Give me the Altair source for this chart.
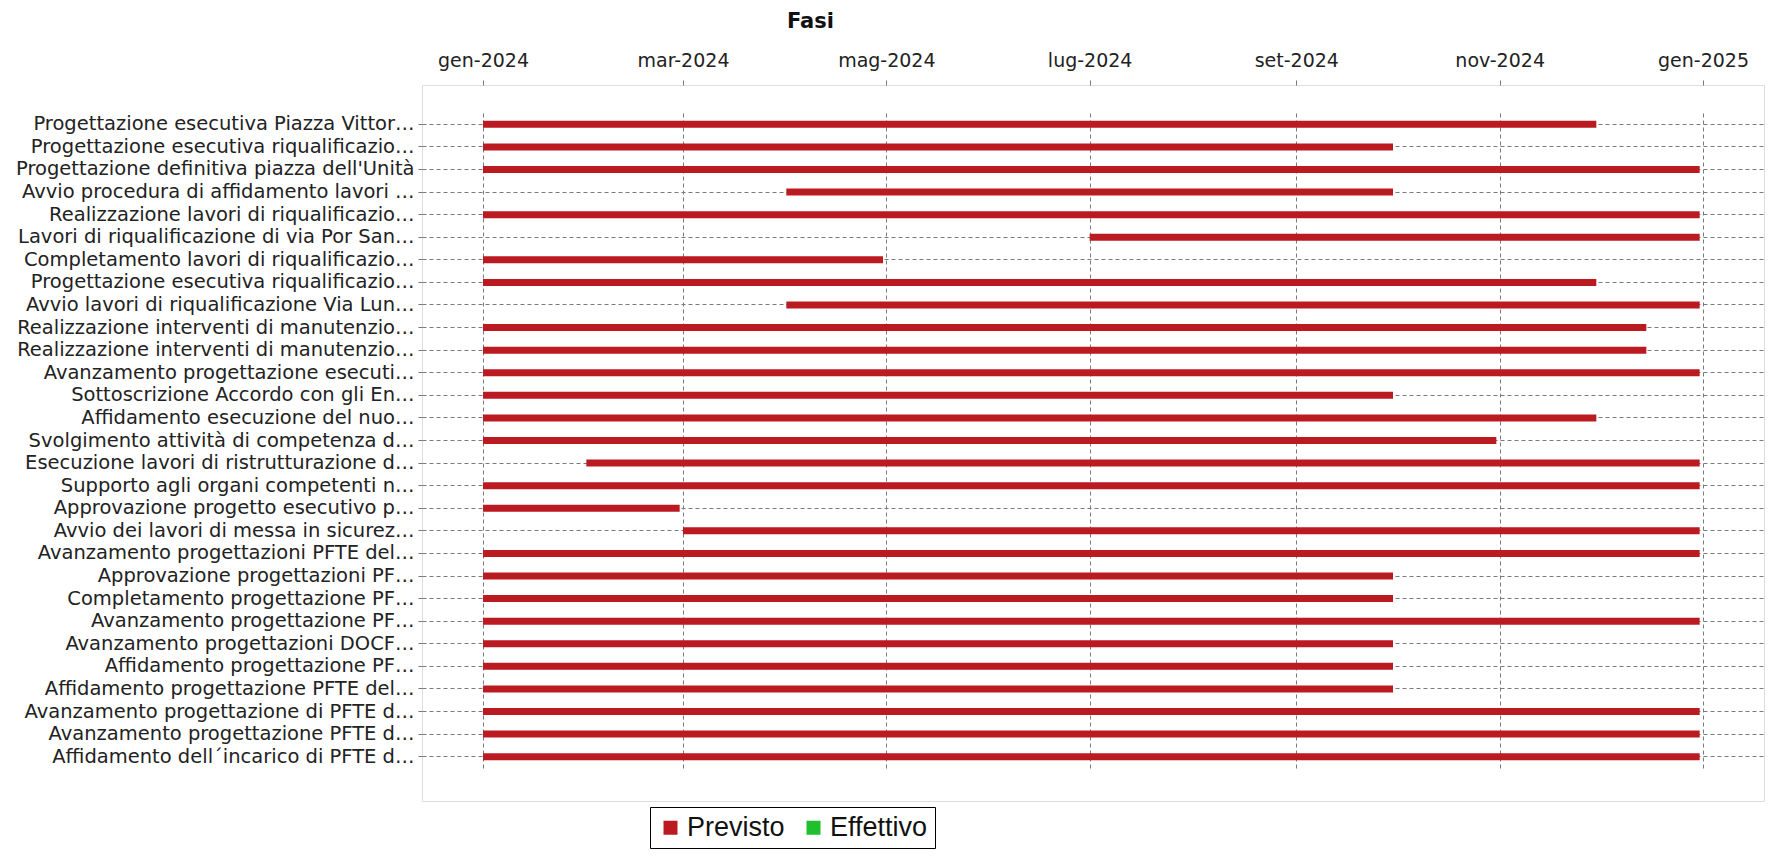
import json
import altair as alt
import pandas as pd

labels = [
    "Progettazione esecutiva Piazza Vittor…",
    "Progettazione esecutiva riqualificazio…",
    "Progettazione definitiva piazza dell'Unità",
    "Avvio procedura di affidamento lavori …",
    "Realizzazione lavori di riqualificazio…",
    "Lavori di riqualificazione di via Por San…",
    "Completamento lavori di riqualificazio…",
    "Progettazione esecutiva riqualificazio…",
    "Avvio lavori di riqualificazione Via Lun…",
    "Realizzazione interventi di manutenzio…",
    "Realizzazione interventi di manutenzio…",
    "Avanzamento progettazione esecuti…",
    "Sottoscrizione Accordo con gli En…",
    "Affidamento esecuzione del nuo…",
    "Svolgimento attività di competenza d…",
    "Esecuzione lavori di ristrutturazione d…",
    "Supporto agli organi competenti n…",
    "Approvazione progetto esecutivo p…",
    "Avvio dei lavori di messa in sicurez…",
    "Avanzamento progettazioni PFTE del…",
    "Approvazione progettazioni PF…",
    "Completamento progettazione PF…",
    "Avanzamento progettazione PF…",
    "Avanzamento progettazioni DOCF…",
    "Affidamento progettazione PF…",
    "Affidamento progettazione PFTE del…",
    "Avanzamento progettazione di PFTE d…",
    "Avanzamento progettazione PFTE d…",
    "Affidamento dell´incarico di PFTE d…",
]

starts = [
    "2024-01-01", "2024-01-01", "2024-01-01", "2024-04-01", "2024-01-01",
    "2024-07-01", "2024-01-01", "2024-01-01", "2024-04-01", "2024-01-01",
    "2024-01-01", "2024-01-01", "2024-01-01", "2024-01-01", "2024-01-01",
    "2024-02-01", "2024-01-01", "2024-01-01", "2024-03-01", "2024-01-01",
    "2024-01-01", "2024-01-01", "2024-01-01", "2024-01-01", "2024-01-01",
    "2024-01-01", "2024-01-01", "2024-01-01", "2024-01-01",
]

ends = [
    "2024-11-30", "2024-09-30", "2024-12-31", "2024-09-30", "2024-12-31",
    "2024-12-31", "2024-04-30", "2024-11-30", "2024-12-31", "2024-12-15",
    "2024-12-15", "2024-12-31", "2024-09-30", "2024-11-30", "2024-10-31",
    "2024-12-31", "2024-12-31", "2024-02-29", "2024-12-31", "2024-12-31",
    "2024-09-30", "2024-09-30", "2024-12-31", "2024-09-30", "2024-09-30",
    "2024-09-30", "2024-12-31", "2024-12-31", "2024-12-31",
]

series = ["Previsto", "Effettivo"]
series_colors = ["#BC1A21", "#1FBF2D"]
month_names = ["gen", "feb", "mar", "apr", "mag", "giu",
               "lug", "ago", "set", "ott", "nov", "dic"]
tick_months = [(2024, 1), (2024, 3), (2024, 5), (2024, 7), (2024, 9), (2024, 11), (2025, 1)]

df = pd.DataFrame({
    "idx": list(range(len(labels))),
    "start": starts,
    "end": ends,
    "serie": ["Previsto"] * len(labels),
})

label_expr = json.dumps(labels) + "[datum.value]"
month_expr = json.dumps(month_names) + "[utcmonth(datum.value)] + '-' + utcyear(datum.value)"

x_domain = [
    alt.DateTime(year=2023, month=12, date=13, hours=16, minutes=48, utc=True),
    alt.DateTime(year=2025, month=1, date=19, hours=7, minutes=12, utc=True),
]
tick_values = [alt.DateTime(year=y, month=m, date=1, utc=True) for y, m in tick_months]

chart = alt.Chart(df).mark_bar(size=7).encode(
    x=alt.X(
        "start:T",
        scale=alt.Scale(type="utc", domain=x_domain, nice=False),
        axis=alt.Axis(
            orient="top", title=None, values=tick_values, labelExpr=month_expr,
            grid=True, gridDash=[4, 3], gridColor="#7a7a7a", gridWidth=1,
            domain=False, tickSize=5, tickColor="#777", labelPadding=10,
            labelFont="DejaVu Sans", labelFontSize=19, labelColor="#222",
            labelOverlap=False, labelFlush=False,
        ),
    ),
    x2="end:T",
    y=alt.Y(
        "idx:O",
        sort=None,
        scale=alt.Scale(paddingInner=0, paddingOuter=0, range=[28, 683]),
        axis=alt.Axis(
            title=None, labelExpr=label_expr, labelLimit=600,
            grid=True, bandPosition=0.5, gridDash=[4, 3], gridColor="#7a7a7a", gridWidth=1,
            domain=False, tickSize=4, tickColor="#777", labelPadding=4,
            labelFont="DejaVu Sans", labelFontSize=19.5, labelColor="#222",
        ),
    ),
    color=alt.Color(
        "serie:N",
        scale=alt.Scale(domain=series, range=series_colors),
        legend=alt.Legend(
            title=None, orient="none", legendX=228, legendY=722,
            direction="horizontal", symbolType="square", symbolSize=196,
            symbolStrokeWidth=0, symbolOpacity=1,
            labelFont="Liberation Sans", labelFontSize=27, labelColor="#111",
            labelOffset=3, columnPadding=15, padding=7,
            strokeColor="#000000",
        ),
    ),
).properties(
    width=1342,
    height=716,
    title=alt.TitleParams(
        "Fasi", anchor="start", frame="group", dx=365, offset=19,
        font="DejaVu Sans", fontSize=21, fontWeight="bold", color="#111",
    ),
    autosize=alt.AutoSizeParams(type="none"),
    padding={"left": 414, "top": 77, "right": 1, "bottom": 60},
).configure_view(
    stroke="#8c8c8c", strokeWidth=1.5
).configure(background="white")

chart.save("out.html", embed_options={"renderer": "svg", "actions": False})
